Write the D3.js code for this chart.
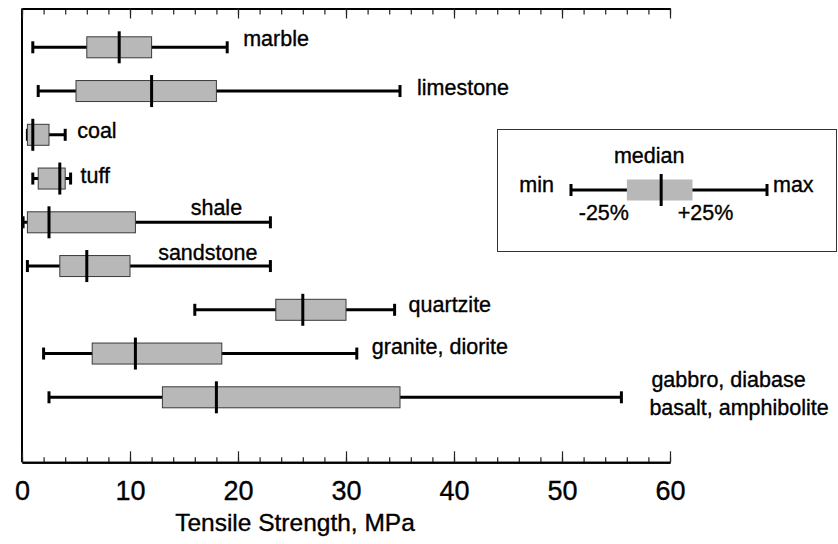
<!DOCTYPE html>
<html><head><meta charset="utf-8">
<script src="https://cdn.jsdelivr.net/npm/d3@7"></script>
<style>
html,body{margin:0;padding:0;background:#fff;}
svg{display:block;font-family:"Liberation Sans",Arial,Helvetica,sans-serif;}
svg text{stroke:#000;stroke-width:0.35px;fill:#000;}
</style></head>
<body>
<svg id="chart" width="838" height="544"></svg>
<script>
// ---- data ----
const rocks   = ["marble","limestone","coal","tuff","shale","sandstone","quartzite","granite, diorite","gabbro, diabase|basalt, amphibolite"];
const minVals = [1.0, 1.5, 0.5, 1.0, 0.1, 0.5, 16.0, 2.0, 2.5];
const q1Vals  = [6.0, 5.0, 0.5, 1.5, 0.5, 3.5, 23.5, 6.5, 13.0];
const medVals = [9.0, 12.0, 1.0, 3.5, 2.5, 6.0, 26.0, 10.5, 18.0];
const q3Vals  = [12.0, 18.0, 2.5, 4.0, 10.5, 10.0, 30.0, 18.5, 35.0];
const maxVals = [19.0, 35.0, 4.0, 4.5, 23.0, 23.0, 34.5, 31.0, 55.5];
const xTicks  = [0,10,20,30,40,50,60];
const axisTitle = "Tensile Strength, MPa";
const legendLabels = {min:"min", max:"max", median:"median", lo:"-25%", hi:"+25%"};

// ---- layout (not data) ----
const labelLayout = [
  {mode:"right", dx:16, dy:-1},
  {mode:"right", dx:17, dy:4},
  {mode:"right", dx:12, dy:3},
  {mode:"right", dx:10, dy:4},
  {mode:"above", at:18.0, dy:-7},
  {mode:"above", at:17.2, dy:-6},
  {mode:"right", dx:14, dy:2},
  {mode:"right", dx:15, dy:0},
  {mode:"right", dx:30, dy:-10, lh:28}
];

const svg = d3.select("#chart");
const L = 22, R = 670, T = 8.5, B = 462.3;
const x = d3.scaleLinear().domain([0,60]).range([L,R]);
const y = d3.scalePoint().domain(rocks).range([47.3,397.3]);

const FS = 21.5;

svg.append("line").attr("x1",L).attr("x2",L).attr("y1",T).attr("y2",B)
  .attr("stroke","#000").attr("stroke-width",2);

const minorTicks = d3.range(0,61,2);
const gB = svg.append("g").attr("transform",`translate(0,${B})`);
gB.call(d3.axisBottom(x).tickValues(minorTicks).tickSizeInner(-5).tickSizeOuter(0).tickFormat(""));
gB.append("g").call(d3.axisBottom(x).tickValues(xTicks).tickSizeInner(-11).tickSizeOuter(0).tickFormat(d3.format("d")).tickPadding(19));
gB.selectAll(".domain").attr("stroke","#000").attr("stroke-width",2);
gB.selectAll(".tick line").attr("stroke","#222").attr("stroke-width",1.2);
gB.selectAll("text").attr("font-size",27).attr("fill","#000")
  .attr("font-family","'Liberation Sans',Arial,sans-serif");

const gT = svg.append("g").attr("transform",`translate(0,${T})`);
gT.call(d3.axisTop(x).tickValues(minorTicks).tickSizeInner(-6).tickSizeOuter(0).tickFormat(""));
gT.append("g").call(d3.axisTop(x).tickValues(xTicks).tickSizeInner(-10).tickSizeOuter(0).tickFormat(""));
gT.selectAll(".domain").attr("stroke","#000").attr("stroke-width",2);
gT.selectAll(".tick line").attr("stroke","#222").attr("stroke-width",1.2);

svg.append("text").attr("x",295).attr("y",531).attr("text-anchor","middle")
  .attr("font-size",24.5).text(axisTitle);

const data = rocks.map((r,i)=>({name:r, min:minVals[i], q1:q1Vals[i], med:medVals[i], q3:q3Vals[i], max:maxVals[i], lay:labelLayout[i]}));
const BOXH = 21, CAP = 6, MEDH = 16;

function drawBox(g, d, xs, cy, withStroke){
  g.append("line").attr("x1",xs(d.min)).attr("x2",xs(d.max)).attr("y1",cy).attr("y2",cy)
    .attr("stroke","#000").attr("stroke-width",3);
  [d.min,d.max].forEach(v=>{
    g.append("line").attr("x1",xs(v)).attr("x2",xs(v)).attr("y1",cy-CAP).attr("y2",cy+CAP)
      .attr("stroke","#000").attr("stroke-width",3);
  });
  g.append("rect").attr("x",xs(d.q1)).attr("y",cy-BOXH/2)
    .attr("width",xs(d.q3)-xs(d.q1)).attr("height",BOXH)
    .attr("fill","#b8b8b8").attr("stroke",withStroke?"#3a3a3a":"none").attr("stroke-width",1);
  g.append("line").attr("x1",xs(d.med)).attr("x2",xs(d.med)).attr("y1",cy-MEDH).attr("y2",cy+MEDH)
    .attr("stroke","#000").attr("stroke-width",3);
}

const gBoxes = svg.append("g");
data.forEach(d=>{
  const cy = y(d.name);
  const g = gBoxes.append("g");
  drawBox(g, d, x, cy, true);
  const lines = d.name.split("|");
  const lay = d.lay;
  let tx, anchor;
  if(lay.mode==="right"){ tx = x(d.max)+lay.dx; anchor="start"; }
  else { tx = x(lay.at); anchor="middle"; }
  lines.forEach((s,k)=>{
    g.append("text").attr("x",tx - (k>0?2:0)).attr("y",cy+lay.dy+k*(lay.lh||0))
      .attr("text-anchor",anchor).attr("font-size",FS).text(s);
  });
});

const lg = svg.append("g");
lg.append("rect").attr("x",497.5).attr("y",129.5).attr("width",339).attr("height",122)
  .attr("fill","#fff").attr("stroke","#333").attr("stroke-width",1);
const lx = d3.scaleLinear().domain([0,1]).range([571,767]);
const legendSample = {min:0, q1:0.285, med:0.46, q3:0.62, max:1};
const lcy = 190;
drawBox(lg, legendSample, lx, lcy, false);
lg.append("text").attr("x",lx(legendSample.med)-12).attr("y",163).attr("text-anchor","middle")
  .attr("font-size",FS).text(legendLabels.median);
lg.append("text").attr("x",lx(0)-17).attr("y",192).attr("text-anchor","end")
  .attr("font-size",FS).text(legendLabels.min);
lg.append("text").attr("x",lx(1)+6).attr("y",192).attr("text-anchor","start")
  .attr("font-size",FS).text(legendLabels.max);
lg.append("text").attr("x",lx(legendSample.q1)-23).attr("y",220).attr("text-anchor","middle")
  .attr("font-size",FS).text(legendLabels.lo);
lg.append("text").attr("x",lx(legendSample.q3)+13).attr("y",220).attr("text-anchor","middle")
  .attr("font-size",FS).text(legendLabels.hi);
</script>
</body></html>
